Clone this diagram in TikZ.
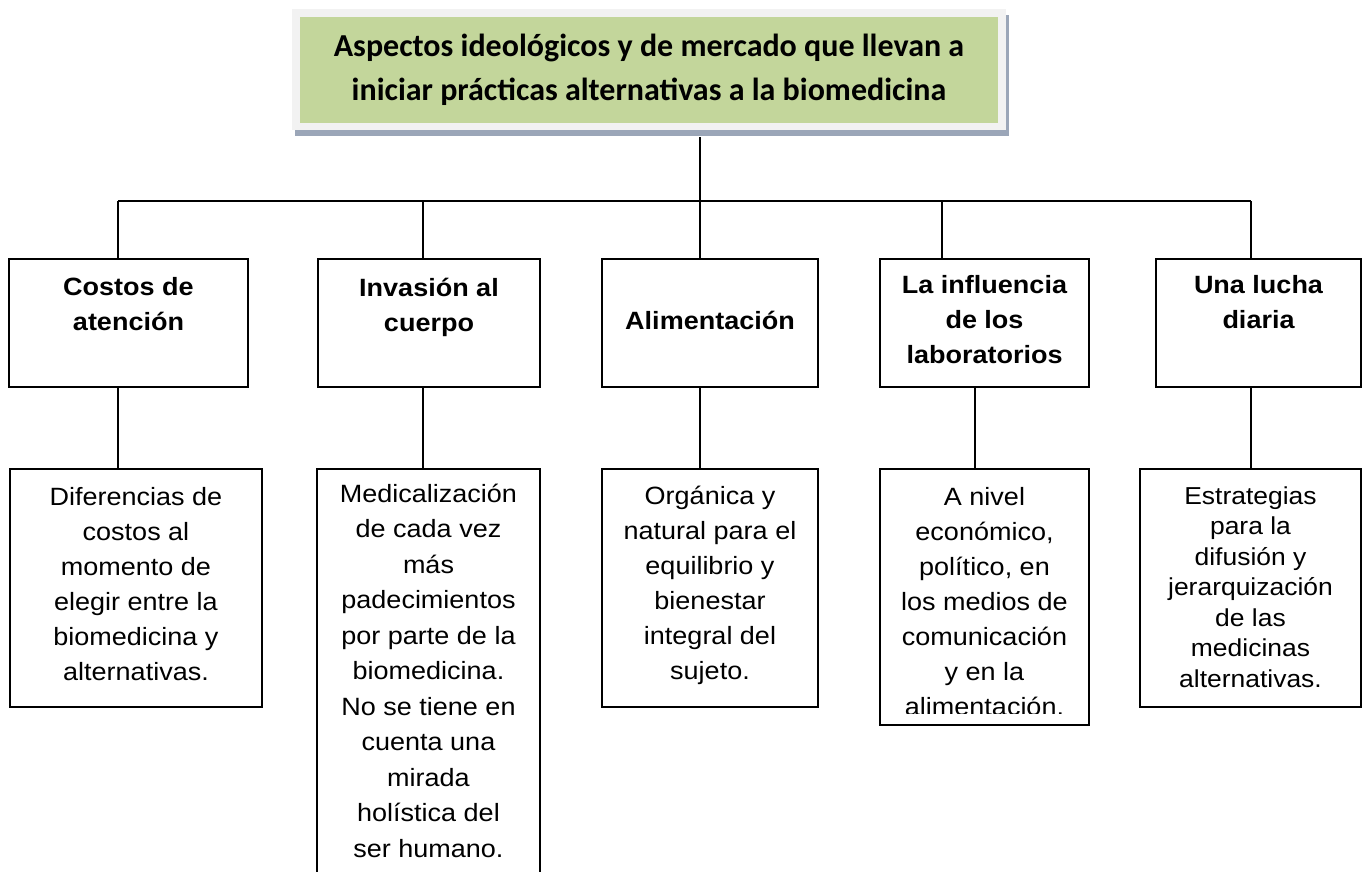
\documentclass[tikz,border=0pt]{standalone}
\usepackage{fontspec}
\setmainfont[FakeStretch=1.08]{Liberation Sans}
\newfontfamily\titlefont{Carlito}
\usetikzlibrary{shadows}

\definecolor{verdetit}{HTML}{C3D69B}
\definecolor{marcogris}{HTML}{F2F2F2}
\definecolor{sombra}{RGB}{155,166,184}

\newcommand{\txtcaja}[4]{\parbox[c][#2pt][t]{#1pt}{\centering\rule{0pt}{#3pt}#4}}

\begin{document}
\begin{tikzpicture}[x=1pt,y=-1pt,
    caja/.style={draw, line width=2pt, inner sep=0pt, outer sep=0pt, fill=white},
    cabeza/.style={caja, font=\fontsize{25}{35}\selectfont\bfseries},
    detalle/.style={caja, font=\fontsize{25}{35}\selectfont},
    linea/.style={line width=2pt}]
  \useasboundingbox (0,0) rectangle (1364,871);
  \clip (0,0) rectangle (1364,871);

  \node[fill=marcogris, minimum width=714pt, minimum height=121pt, inner sep=0pt,
        drop shadow={shadow xshift=3pt, shadow yshift=-5.5pt, fill=sombra, opacity=1}]
    (marco) at (649,69.5) {};
  \node[fill=verdetit, minimum width=698pt, minimum height=106pt, align=center,
        font=\titlefont\bfseries\fontsize{32}{44}\selectfont]
    (tit) at (649,70) {Aspectos ideológicos y de mercado que llevan a\\
                       iniciar prácticas alternativas a la biomedicina};

  \node[cabeza] (cos) at (128.5,323) {\txtcaja{239}{128}{36}{Costos de\\atención}};
  \node[cabeza] (inv) at (429,323)   {\txtcaja{222}{128}{37}{Invasión al\\cuerpo}};
  \node[cabeza] (ali) at (710,323)   {\txtcaja{216}{128}{70}{Alimentación}};
  \node[cabeza] (lab) at (984.5,323) {\txtcaja{209}{128}{34}{La influencia\\de los\\laboratorios}};
  \node[cabeza] (luc) at (1258.5,323){\txtcaja{205}{128}{34}{Una lucha\\diaria}};

  \node[detalle] (dif) at (136,588) {\txtcaja{252}{238}{36}{Diferencias de\\costos al\\momento de\\elegir entre la\\biomedicina y\\alternativas.}};
  \node[detalle, font=\fontsize{25}{35.5}\selectfont] (med) at (428.5,679)
    {\txtcaja{223}{420}{33}{Medicalización\\de cada vez\\más\\padecimientos\\por parte de la\\biomedicina.\\No se tiene en\\cuenta una\\mirada\\holística del\\ser humano.}};
  \node[detalle] (org) at (710,588) {\txtcaja{216}{238}{35}{Orgánica y\\natural para el\\equilibrio y\\bienestar\\integral del\\sujeto.}};
  \node[detalle] (niv) at (984.5,597) {\txtcaja{209}{256}{36}{A nivel\\económico,\\político, en\\los medios de\\comunicación\\y en la\\alimentación.}};
  \node[detalle, font=\fontsize{24.5}{30.5}\selectfont] (est) at (1250.5,588)
    {\txtcaja{221}{238}{35}{Estrategias\\para la\\difusión y\\jerarquización\\de las\\medicinas\\alternativas.}};
  \fill[white] (882,714) rectangle (1087,723.5);

  \coordinate (bus) at (700,201);
  \coordinate (h1) at (118,201);
  \coordinate (h2) at (423,201);
  \coordinate (h4) at (942,201);
  \coordinate (h5) at (1251,201);
  \coordinate (v4) at (975,428);

  \draw[linea, shorten <=7pt] (marco.south -| bus) -- (bus);
  \draw[linea] (h1) -- (h5);
  \draw[linea] (h1) -- (h1 |- cos.north);
  \draw[linea] (h2) -- (h2 |- inv.north);
  \draw[linea] (bus) -- (bus |- ali.north);
  \draw[linea] (h4) -- (h4 |- lab.north);
  \draw[linea] (h5) -- (h5 |- luc.north);

  \draw[linea] (cos.south -| h1) -- (dif.north -| h1);
  \draw[linea] (inv.south -| h2) -- (med.north -| h2);
  \draw[linea] (ali.south -| bus) -- (org.north -| bus);
  \draw[linea] (lab.south -| v4) -- (niv.north -| v4);
  \draw[linea] (luc.south -| h5) -- (est.north -| h5);
\end{tikzpicture}
\end{document}
